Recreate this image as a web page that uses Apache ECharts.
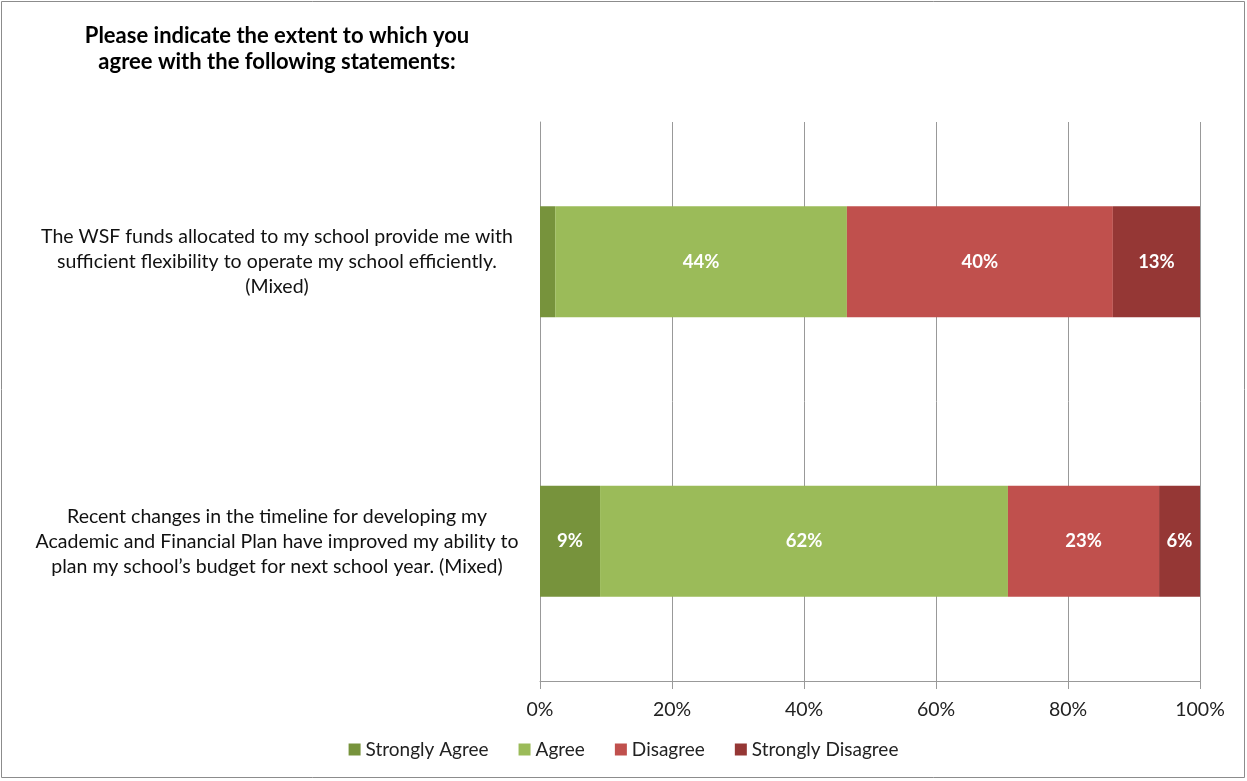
<!DOCTYPE html>
<html>
<head>
<meta charset="utf-8">
<script src="https://cdn.jsdelivr.net/npm/echarts@6/dist/echarts.min.js"></script>
<style>
html,body{margin:0;padding:0;background:#fff;}
#main{width:1247px;height:781px;}
</style>
</head>
<body>
<div id="main"></div>
<script>
const categories = [
  "The WSF funds allocated to my school provide me with\nsufficient flexibility to operate my school efficiently.\n(Mixed)",
  "Recent changes in the timeline for developing my\nAcademic and Financial Plan have improved my ability to\nplan my school\u2019s budget for next school year. (Mixed)"
];
const seriesNames = ["Strongly Agree", "Agree", "Disagree", "Strongly Disagree"];
const stronglyAgree = [2.3, 9.1];
const agree = [44.2, 61.8];
const disagree = [40.3, 22.9];
const stronglyDisagree = [13.2, 6.2];
const xTicks = [0, 20, 40, 60, 80, 100];
const colors = ["#77933C", "#9BBB59", "#C0504D", "#953735"];

const FONT = "Lato, 'Open Sans', sans-serif";
const chart = echarts.init(document.getElementById('main'));
const dataSets = [stronglyAgree, agree, disagree, stronglyDisagree];

chart.setOption({
  animation: false,
  textStyle: { fontFamily: FONT },
  title: {
    text: "Please indicate the extent to which you\nagree with the following statements:",
    left: 272, top: 18, textAlign: 'center',
    textStyle: { fontFamily: FONT, fontSize: 22, fontWeight: 'bold', color: '#000', lineHeight: 26 }
  },
  graphic: [{
    type: 'rect', shape: { x: 1.5, y: 1.5, width: 1243, height: 776 },
    style: { fill: 'none', stroke: '#8c8c8c', lineWidth: 1 }, silent: true
  }],
  legend: {
    top: 735, left: 'center',
    itemWidth: 12, itemHeight: 12, itemGap: 30,
    icon: 'rect',
    textStyle: { fontFamily: FONT, fontSize: 19, color: '#222' },
    data: seriesNames
  },
  grid: { left: 540, right: 47, top: 122, bottom: 100, containLabel: false },
  xAxis: {
    type: 'value', min: 0, max: 100, interval: 20,
    axisLine: { show: true, lineStyle: { color: '#999' } },
    axisTick: { show: true, length: 8, lineStyle: { color: '#999' } },
    splitLine: { show: true, lineStyle: { color: '#999' } },
    axisLabel: { formatter: v => v + '%', fontSize: 19.5, color: '#222', margin: 19, fontFamily: FONT }
  },
  yAxis: {
    type: 'category', inverse: true, data: categories,
    axisLine: { show: true, lineStyle: { color: '#999' } },
    axisTick: { show: false },
    axisLabel: { fontSize: 19.5, color: '#111', margin: 263, lineHeight: 25, align: 'center', fontFamily: FONT }
  },
  series: seriesNames.map((name, i) => ({
    name, type: 'bar', stack: 'total', barWidth: 111,
    itemStyle: { color: colors[i] },
    label: {
      show: true, position: 'inside', color: '#fff', fontWeight: 'bold', fontSize: 18.5, fontFamily: FONT,
      formatter: p => p.value >= 5 ? Math.round(p.value) + '%' : ''
    },
    data: dataSets[i]
  }))
});
</script>
</body>
</html>
